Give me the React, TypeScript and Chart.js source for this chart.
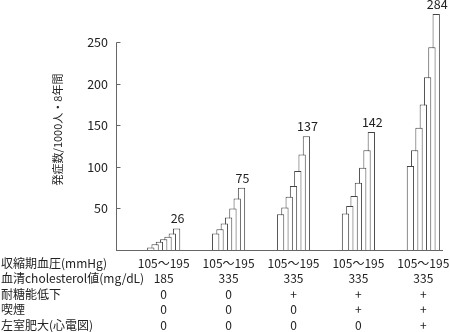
import React, { useEffect, useRef } from 'react';
import { Chart, registerables } from 'chart.js';

Chart.register(...registerables);

// Group positions on the x axis (one per risk-factor profile)
const groupPositions = [0, 1, 2, 3, 4];

// Seven bars per group (systolic BP rising from 105 to 195 mmHg)
const group1 = [3, 7, 10, 13, 16, 20, 26];
const group2 = [20, 25, 32, 39, 50, 62, 75];
const group3 = [43, 51, 64, 77, 95, 115, 137];
const group4 = [44, 53, 65, 81, 99, 120, 142];
const group5 = [101, 120, 147, 175, 208, 244, 284];

const yTicks = [50, 100, 150, 200, 250];
const yTitle = '発症数/1000人・8年間';

const rowHeaders = [
  '収縮期血圧(mmHg)',
  '血清cholesterol値(mg/dL)',
  '耐糖能低下',
  '喫煙',
  '左室肥大(心電図)',
];
const bloodPressureRow = ['105〜195', '105〜195', '105〜195', '105〜195', '105〜195'];
const cholesterolRow = ['185', '335', '335', '335', '335'];
const glucoseRow = ['0', '0', '+', '+', '+'];
const smokingRow = ['0', '0', '0', '+', '+'];
const lvhRow = ['0', '0', '0', '0', '+'];

const FONT = '"Noto Sans CJK JP", "Noto Sans", sans-serif';
const TEXT = '#222222';
const LINE = '#666666';
const ROW_H = 15.5;
const ROW_PAD = 5.5;

export default function App() {
  const ref = useRef<HTMLCanvasElement>(null);

  useEffect(() => {
    if (!ref.current) return;
    Chart.defaults.font.family = FONT;
    const groups = [group1, group2, group3, group4, group5];
    const tableRows = [bloodPressureRow, cholesterolRow, glucoseRow, smokingRow, lvhRow];

    const datasets = group1.map((_, j) => ({
      label: `bar${j + 1}`,
      data: groupPositions.map((x, g) => ({ x, y: groups[g][j] })),
      backgroundColor: '#ffffff',
      borderColor: '#444444',
      borderWidth: 1,
      borderSkipped: 'bottom' as const,
      categoryPercentage: 0.464,
      barPercentage: 1.7,
    }));

    const decor = {
      id: 'decor',
      afterDraw(chart: any) {
        const { ctx, chartArea, scales } = chart;
        const x = scales.x;
        const y = scales.y;
        ctx.save();
        // y axis line (0..250) with inward ticks
        const ax = Math.round(chartArea.left) + 0.5;
        ctx.strokeStyle = LINE;
        ctx.lineWidth = 1;
        ctx.beginPath();
        ctx.moveTo(ax, Math.round(y.getPixelForValue(yTicks[yTicks.length - 1])) + 0.5);
        ctx.lineTo(ax, y.getPixelForValue(0));
        yTicks.forEach((v) => {
          const py = Math.round(y.getPixelForValue(v)) + 0.5;
          ctx.moveTo(ax, py);
          ctx.lineTo(ax + 4, py);
        });
        ctx.stroke();

        // row headers of the table
        ctx.fillStyle = TEXT;
        ctx.font = `12px ${FONT}`;
        ctx.textAlign = 'left';
        ctx.textBaseline = 'middle';
        rowHeaders.forEach((t, i) => {
          ctx.fillText(t, 1, x.top + ROW_PAD + ROW_H / 2 + i * ROW_H);
        });

        // value labels above the tallest bar of each group
        const lastIdx = datasets.length - 1;
        const meta = chart.getDatasetMeta(lastIdx);
        ctx.font = `12.5px ${FONT}`;
        ctx.textAlign = 'center';
        ctx.textBaseline = 'alphabetic';
        meta.data.forEach((el: any, i: number) => {
          ctx.fillText(String(groups[i][lastIdx]), el.x + 1, el.y - 5);
        });
        ctx.restore();
      },
    };

    const chart = new Chart(ref.current, {
      type: 'bar',
      data: { datasets },
      options: {
        animation: false,
        responsive: false,
        layout: { padding: { left: 0, right: 8, top: 9, bottom: 0 } },
        plugins: { legend: { display: false }, tooltip: { enabled: false } },
        scales: {
          x: {
            type: 'linear',
            offset: false,
            min: -0.735,
            max: 4.288,
            grid: { display: false, drawTicks: false },
            border: { display: true, color: LINE, width: 1 },
            afterBuildTicks: (s: any) => {
              s.ticks = groupPositions.map((v) => ({ value: v }));
            },
            afterFit: (s: any) => {
              s.height = 82;
              s.paddingLeft = 0;
              s.paddingRight = 0;
            },
            ticks: {
              autoSkip: false,
              maxRotation: 0,
              minRotation: 0,
              padding: ROW_PAD,
              color: TEXT,
              font: { size: 12, lineHeight: `${ROW_H}px` },
              callback: (_v: any, index: number) => tableRows.map((r) => r[index]),
            },
          },
          y: {
            min: 0,
            max: 290,
            grid: { display: false, drawTicks: false },
            border: { display: false },
            afterBuildTicks: (s: any) => {
              s.ticks = yTicks.map((v) => ({ value: v }));
            },
            afterFit: (s: any) => {
              s.width = 116;
              s.paddingTop = 0;
              s.paddingBottom = 0;
            },
            ticks: { padding: 8, color: TEXT, font: { size: 12.5 } },
            title: {
              display: true,
              text: yTitle,
              color: TEXT,
              font: { size: 11 },
              padding: { top: 51, bottom: 0 },
            },
          },
        },
      },
      plugins: [decor],
    } as any);

    return () => chart.destroy();
  }, []);

  return (
    <div style={{ position: 'absolute', left: 0, top: 0, width: 450, height: 332, background: '#fff' }}>
      <canvas ref={ref} width={450} height={332} style={{ display: 'block' }} />
    </div>
  );
}
